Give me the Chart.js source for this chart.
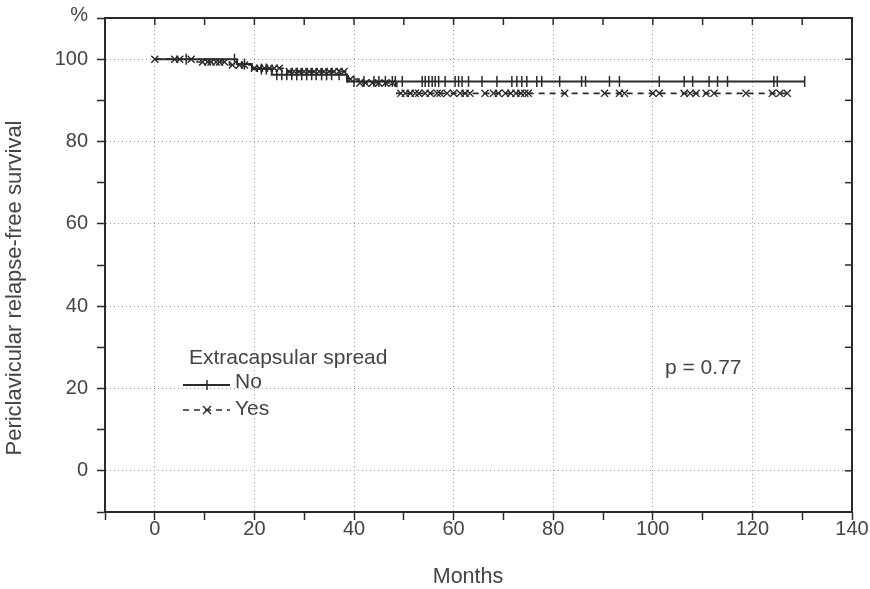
<!DOCTYPE html>
<html>
<head>
<meta charset="utf-8">
<title>Periclavicular relapse-free survival</title>
<script src="https://cdn.jsdelivr.net/npm/chart.js"></script>
<style>
  body { margin: 0; background: #fff; }
  canvas { display: block; }
</style>
</head>
<body>
<canvas id="kmChart" width="870" height="589"></canvas>
<script>
// Kaplan-Meier steps (months, % relapse-free)
const noTimes = [0, 16.5, 19.5, 23.5, 38.6, 130.5];
const noSurv  = [100, 98.8, 97.6, 96.2, 94.6, 94.6];
const yesTimes = [0, 8.5, 15, 19.5, 26.5, 38.8, 41, 48.6, 127];
const yesSurv  = [100, 99.3, 98.6, 97.8, 97.0, 95.2, 94.2, 91.7, 91.7];

// censored observations (months)
const noCensor = [6.3, 16, 18, 21.4, 22.4, 24.5, 25.5, 26.5, 27.5, 28.5, 29.5, 30.5, 31.5, 32.4,
  33.5, 34.5, 35.5, 37, 40, 42, 44, 45, 46.3, 47.7, 48.3, 49.7, 53.7, 54.3, 55, 55.7, 56.3, 57,
  58.3, 60.3, 61, 61.7, 63, 65.7, 68.7, 71.7, 72.7, 73.7, 74.7, 76.7, 77.7, 81.3, 85.7, 86.5,
  91.3, 93.3, 101.3, 106.3, 108, 111.3, 113, 115, 124.3, 125, 130.5];
const yesCensor = [0, 4, 5, 7.3, 9.6, 10.6, 11.3, 12.3, 13, 14, 15.6, 17, 18, 20, 21, 22, 23, 24,
  25, 27, 28, 29, 30, 31, 32, 33, 34, 35, 36, 37, 38, 39.3, 41.2, 42.3, 43.7, 45, 46.3, 47.7,
  49.4, 50.3, 51.3, 52.3, 53, 54.3, 55.3, 56.7, 57.3, 58.7, 60, 61.3, 62.3, 63.3, 66.3, 68, 69,
  70.4, 71.5, 72.5, 73.5, 74.3, 75, 82.3, 90.3, 93.3, 94.3, 100, 101.3, 106.3, 107.5, 108.7,
  110.7, 112.3, 118.7, 124, 125.5, 127];

const INK = '#2a2a2a';
const TEXT = '#444';
const FONT = "'Liberation Sans', Arial, sans-serif";

function survAt(times, surv, t) {
  let v = surv[0];
  for (let i = 0; i < times.length; i++) {
    if (times[i] <= t) v = surv[i];
  }
  return v;
}
const curve = (times, surv) => times.map((t, i) => ({x: t, y: surv[i]}));
const marks = (times, surv, cens) => cens.map(t => ({x: t, y: survAt(times, surv, t)}));

function gridColor(lo, hi) {
  return c => {
    const v = c.tick ? c.tick.value : NaN;
    return (v % 20 === 0 && v >= lo && v <= hi) ? '#a0a0a0' : 'rgba(0,0,0,0)';
  };
}

// box, inner ticks, legend and side texts
const extras = {
  id: 'extras',
  afterDraw(chart) {
    const {ctx, chartArea: a, scales} = chart;
    ctx.save();
    ctx.strokeStyle = INK;
    ctx.lineWidth = 2;
    ctx.beginPath();
    ctx.moveTo(a.left, a.top); ctx.lineTo(a.right, a.top); ctx.lineTo(a.right, a.bottom);
    ctx.stroke();
    ctx.lineWidth = 1.5;
    scales.x.ticks.forEach(t => {
      const px = scales.x.getPixelForValue(t.value);
      ctx.beginPath(); ctx.moveTo(px, a.top); ctx.lineTo(px, a.top + 7); ctx.stroke();
    });
    scales.y.ticks.forEach(t => {
      const py = scales.y.getPixelForValue(t.value);
      ctx.beginPath(); ctx.moveTo(a.right, py); ctx.lineTo(a.right - 7, py); ctx.stroke();
    });

    ctx.fillStyle = TEXT;
    ctx.textBaseline = 'middle';
    ctx.textAlign = 'right';
    ctx.font = '20px ' + FONT;
    ctx.fillText('%', 88, 15);

    ctx.textAlign = 'left';
    ctx.font = '21px ' + FONT;
    ctx.fillText('Extracapsular spread', 189, 358);
    ctx.fillText('No', 235, 382);
    ctx.fillText('Yes', 235, 409);
    ctx.fillText('p = 0.77', 665, 368);

    // legend samples
    ctx.lineWidth = 2;
    ctx.beginPath(); ctx.moveTo(183, 385); ctx.lineTo(230, 385); ctx.stroke();
    ctx.lineWidth = 1.5;
    ctx.beginPath(); ctx.moveTo(207, 380); ctx.lineTo(207, 390); ctx.stroke();
    ctx.lineWidth = 1.6;
    ctx.setLineDash([6, 5]);
    ctx.beginPath(); ctx.moveTo(183, 410); ctx.lineTo(230, 410); ctx.stroke();
    ctx.setLineDash([]);
    ctx.lineWidth = 1.4;
    ctx.beginPath();
    ctx.moveTo(203, 406); ctx.lineTo(211, 414);
    ctx.moveTo(211, 406); ctx.lineTo(203, 414);
    ctx.stroke();

    // axis titles
    ctx.textAlign = 'center';
    ctx.font = '21.5px ' + FONT;
    ctx.fillText('Months', 468, 577);
    ctx.translate(15, 288);
    ctx.rotate(-Math.PI / 2);
    ctx.font = '22px ' + FONT;
    ctx.fillText('Periclavicular relapse-free survival', 0, 0);
    ctx.restore();
  }
};

new Chart(document.getElementById('kmChart'), {
  type: 'line',
  data: {
    datasets: [
      {label: 'No', data: curve(noTimes, noSurv), stepped: true, borderColor: INK,
       borderWidth: 2, pointRadius: 0, fill: false},
      {label: 'Yes', data: curve(yesTimes, yesSurv), stepped: true, borderColor: INK,
       borderWidth: 1.6, borderDash: [6, 5], pointRadius: 0, fill: false},
      {label: 'No censored', data: marks(noTimes, noSurv, noCensor), showLine: false,
       pointStyle: 'line', pointRotation: 90, pointRadius: 5.5, borderColor: INK, borderWidth: 1.5},
      {label: 'Yes censored', data: marks(yesTimes, yesSurv, yesCensor), showLine: false,
       pointStyle: 'crossRot', pointRadius: 5, borderColor: INK, borderWidth: 1.4}
    ]
  },
  options: {
    responsive: false,
    animation: false,
    layout: {padding: {left: 0, right: 18, top: 18, bottom: 0}},
    plugins: {legend: {display: false}, tooltip: {enabled: false}},
    scales: {
      x: {
        type: 'linear', min: -10, max: 140,
        ticks: {stepSize: 10, autoSkip: false, maxRotation: 0, padding: -3, color: TEXT,
                font: {family: FONT, size: 20}, callback: v => v % 20 === 0 ? v : ''},
        grid: {color: gridColor(0, 120), lineWidth: 1, tickColor: INK, tickLength: 8, tickWidth: 1.5},
        border: {color: INK, width: 2, dash: [1, 3]},
        afterFit: s => { s.height = 77; }
      },
      y: {
        min: -10, max: 110,
        ticks: {stepSize: 10, autoSkip: false, padding: 9, color: TEXT,
                font: {family: FONT, size: 20},
                callback: v => v % 20 === 0 && v >= 0 && v <= 100 ? v : ''},
        grid: {color: gridColor(0, 100), lineWidth: 1, tickColor: INK, tickLength: 8, tickWidth: 1.5},
        border: {color: INK, width: 2, dash: [1, 3]},
        afterFit: s => { s.width = 105; s.paddingTop = 0; s.paddingBottom = 0; }
      }
    }
  },
  plugins: [extras]
});
</script>
</body>
</html>
